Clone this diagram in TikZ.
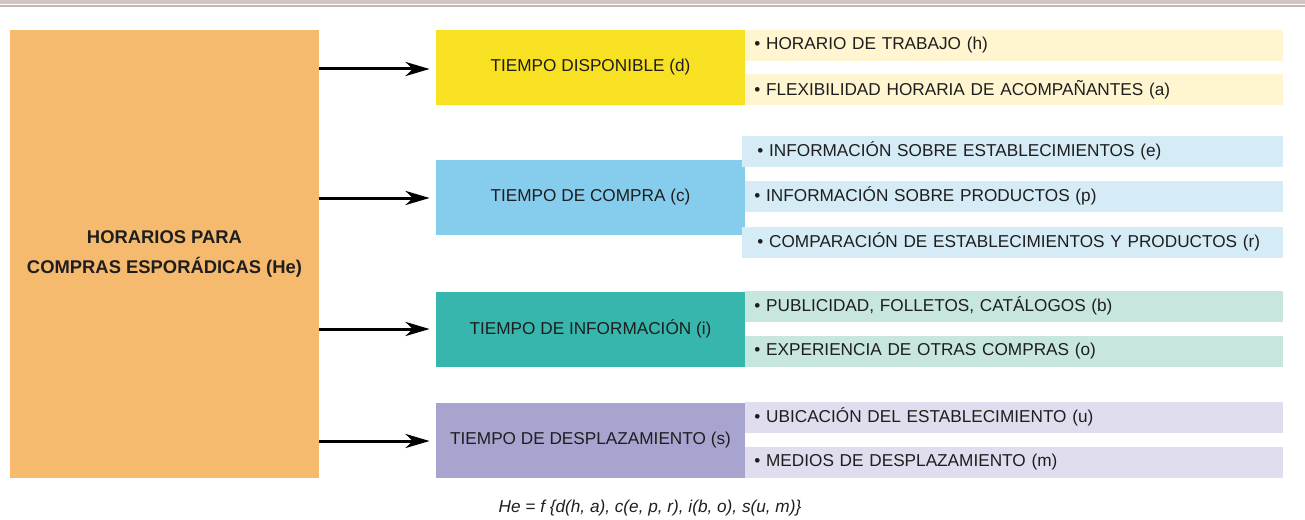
\documentclass[tikz,border=0pt]{standalone}
\usepackage{fontspec}
\setmainfont{Liberation Sans}
\usetikzlibrary{arrows.meta,positioning}
\definecolor{naranja}{HTML}{F6BA6F}
\definecolor{amarillo}{HTML}{F8E022}
\definecolor{amarilloclaro}{HTML}{FFF5D1}
\definecolor{azul}{HTML}{86CCEC}
\definecolor{azulclaro}{HTML}{D5EBF6}
\definecolor{verde}{HTML}{37B6AE}
\definecolor{verdeclaro}{HTML}{C7E6E0}
\definecolor{morado}{HTML}{A7A4D0}
\definecolor{moradoclaro}{HTML}{E0DDEF}
\definecolor{banda1}{HTML}{D3C5BE}
\definecolor{banda2}{HTML}{C8B2B4}
\definecolor{tinta}{HTML}{1E1E1E}
\begin{document}
\begin{tikzpicture}[x=.5pt,y=-.5pt,every node/.style={font=\fontsize{8.6}{10}\selectfont,text=tinta},
  tipo/.style={inner sep=0pt,minimum width=154.5pt,minimum height=37.5pt,align=center},
  item/.style={anchor=west,inner xsep=4.5pt,inner ysep=0pt,minimum height=15.5pt,text width=260pt,align=left},
  itemancho/.style={item,inner xsep=7.5pt,text width=255.5pt},
  flecha/.style={-{Stealth[length=12pt,width=7pt,inset=3.5pt]},line width=1.5pt,shorten >=3pt}]
\useasboundingbox (0,0) rectangle (1305,519);
% franjas superiores
\fill[banda1] (0,0) rectangle (1305,3.7);
\fill[banda2] (0,4.7) rectangle (1305,6.7);
% bloque principal
\node[fill=naranja,minimum width=154.5pt,minimum height=224pt,align=center,font=\bfseries\fontsize{9.2}{15}\selectfont] (horarios) at (164.5,254) {HORARIOS PARA\\COMPRAS ESPORÁDICAS (He)};
% tiempos
\node[tipo,fill=amarillo] (disponible) at (590.5,67.5) {TIEMPO DISPONIBLE (d)};
\node[tipo,fill=azul] (compra) at (590.5,197) {TIEMPO DE COMPRA (c)};
\node[tipo,fill=verde] (informacion) at (590.5,329) {TIEMPO DE INFORMACIÓN (i)};
\node[tipo,fill=morado] (desplazamiento) at (590.5,440) {TIEMPO DE DESPLAZAMIENTO (s)};
% factores
\node[item,fill=amarilloclaro] (trabajo) at (745,45.5) {• HORARIO DE TRABAJO (h)};
\node[item,fill=amarilloclaro] (acompanantes) at (745,90) {• FLEXIBILIDAD HORARIA DE ACOMPAÑANTES (a)};
\node[itemancho,fill=azulclaro] (establecimientos) at (742,151) {• INFORMACIÓN SOBRE ESTABLECIMIENTOS (e)};
\node[item,fill=azulclaro] (productos) at (745,196) {• INFORMACIÓN SOBRE PRODUCTOS (p)};
\node[itemancho,fill=azulclaro] (comparacion) at (742,242) {• COMPARACIÓN DE ESTABLECIMIENTOS Y PRODUCTOS (r)};
\node[item,fill=verdeclaro] (publicidad) at (745,306) {• PUBLICIDAD, FOLLETOS, CATÁLOGOS (b)};
\node[item,fill=verdeclaro] (experiencia) at (745,351.5) {• EXPERIENCIA DE OTRAS COMPRAS (o)};
\node[item,fill=moradoclaro] (ubicacion) at (745,417) {• UBICACIÓN DEL ESTABLECIMIENTO (u)};
\node[item,fill=moradoclaro] (medios) at (745,462.5) {• MEDIOS DE DESPLAZAMIENTO (m)};
% formula
\node[font=\itshape\fontsize{8.6}{10}\selectfont] (funcion) at (650,508) {He = f \{d(h, a), c(e, p, r), i(b, o), s(u, m)\}};
\draw[flecha] ([yshift=-.75pt]horarios.east |- disponible) -- ([yshift=-.75pt]disponible.west);
\draw[flecha] ([yshift=-.5pt]horarios.east |- compra) -- ([yshift=-.5pt]compra.west);
\draw[flecha] (horarios.east |- informacion) -- (informacion);
\draw[flecha] ([yshift=-.5pt]horarios.east |- desplazamiento) -- ([yshift=-.5pt]desplazamiento.west);
\end{tikzpicture}
\end{document}
